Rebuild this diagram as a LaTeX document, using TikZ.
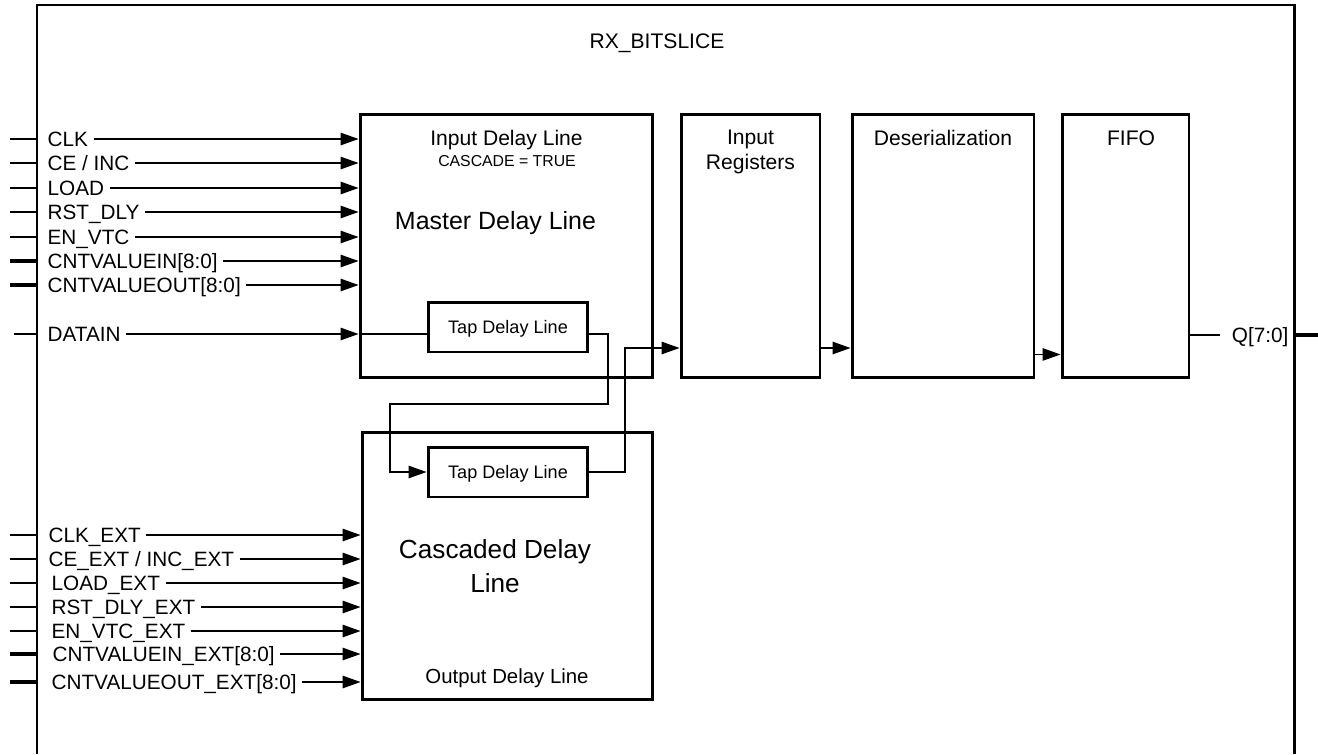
\documentclass[tikz,border=0pt]{standalone}
\usepackage{fontspec}
\setmainfont{Liberation Sans}
\usetikzlibrary{arrows.meta}

\begin{document}
\begin{tikzpicture}[
  x=0.02cm, y=-0.02cm,
  block/.style={draw, line width=1.7pt, inner sep=0pt, minimum height=5.28cm},
  tapbox/.style={draw, line width=1.7pt, inner sep=0pt, minimum width=3.2cm, minimum height=1.0cm, text height=7.4pt, text depth=0pt, font=\fontsize{10.3}{12}\selectfont},
  sig/.style={anchor=west, inner sep=3pt, text height=8.4pt, text depth=0pt, font=\fontsize{11.8}{14}\selectfont},
  label/.style={inner sep=0pt, anchor=base, font=\fontsize{12}{14.2}\selectfont},
  req/.style={-{Triangle[length=0.36cm, width=0.25cm]}, line width=0.75pt},
  wire/.style={line width=0.75pt},
  bus/.style={line width=2.7pt},
  outer/.style={line width=1.7pt}
]
\useasboundingbox (0,0) rectangle (1318,754);

% RX_BITSLICE frame (open at the bottom)
\draw[outer] (37,754) |- (1294,5) -- (1294,754);
\node[label] (ttl) at (657,48) {RX\_BITSLICE};
\coordinate (pinL) at (10,0);
\coordinate (edgeL) at (37,0);
\coordinate (edgeR) at (1294,0);
\coordinate (pinR) at (1318,0);

% Blocks
\node[block, minimum width=5.86cm] (master) at (506.5,246) {};
\node[block, minimum width=5.82cm, minimum height=5.36cm] (casc) at (507.5,566) {};
\node[block, minimum width=2.78cm] (inreg) at (750.5,246) {};
\node[block, minimum width=3.64cm] (deser) at (943,246) {};
\node[block, minimum width=2.54cm] (fifo) at (1125.5,246) {};
\node[tapbox] (tapm) at (508,327) {Tap Delay Line};
\node[tapbox] (tapc) at (508,472) {Tap Delay Line};

% Block texts
\node[label] (idl) at (506.5,145) {Input Delay Line};
\node[label, font=\fontsize{9}{11}\selectfont] (cas) at (507,166) {CASCADE = TRUE};
\node[label, font=\fontsize{14.2}{17}\selectfont] (mdl) at (495.5,229) {Master Delay Line};
\node[label, anchor=north, align=center] (irg) at (750.5,130) {Input\\Registers};
\node[label] (dsr) at (943,145) {Deserialization};
\node[label] (ffo) at (1131,145) {FIFO};
\node[label, anchor=north, align=center, font=\fontsize{14.9}{19.3}\selectfont] (cdl) at (495,539) {Cascaded Delay\\Line};
\node[label, font=\fontsize{11.6}{14}\selectfont] (odl) at (507,683) {Output Delay Line};

% Master delay line inputs
\node[sig] (clk) at (42,139) {CLK};
\draw[wire] (clk -| pinL) -- (clk -| edgeL);
\draw[req] (clk) -- (clk -| master.west);
\node[sig] (ce) at (42,163) {CE / INC};
\draw[wire] (ce -| pinL) -- (ce -| edgeL);
\draw[req] (ce) -- (ce -| master.west);
\node[sig] (load) at (42,188) {LOAD};
\draw[wire] (load -| pinL) -- (load -| edgeL);
\draw[req] (load) -- (load -| master.west);
\node[sig] (rst) at (42,212) {RST\_DLY};
\draw[wire] (rst -| pinL) -- (rst -| edgeL);
\draw[req] (rst) -- (rst -| master.west);
\node[sig] (envtc) at (42,237) {EN\_VTC};
\draw[wire] (envtc -| pinL) -- (envtc -| edgeL);
\draw[req] (envtc) -- (envtc -| master.west);
\node[sig] (cntin) at (42,261) {CNTVALUEIN[8:0]};
\draw[bus] (cntin -| pinL) -- (cntin -| edgeL);
\draw[req] (cntin) -- (cntin -| master.west);
\node[sig] (cntout) at (42,285) {CNTVALUEOUT[8:0]};
\draw[bus] (cntout -| pinL) -- (cntout -| edgeL);
\draw[req] (cntout) -- (cntout -| master.west);
\node[sig] (datain) at (42,334) {DATAIN};
\draw[wire] ([xshift=0.08cm]datain -| pinL) -- (datain -| edgeL);
\draw[req] (datain) -- (datain -| master.west);
\draw[wire] (datain -| master.west) -- (datain -| tapm.west);

% Cascaded delay line inputs
\node[sig] (clkx) at (43,535) {CLK\_EXT};
\draw[wire] (clkx -| pinL) -- (clkx -| edgeL);
\draw[req] (clkx) -- (clkx -| casc.west);
\node[sig] (cex) at (43,559) {CE\_EXT / INC\_EXT};
\draw[wire] (cex -| pinL) -- (cex -| edgeL);
\draw[req] (cex) -- (cex -| casc.west);
\node[sig] (loadx) at (46,583) {LOAD\_EXT};
\draw[wire] (loadx -| pinL) -- (loadx -| edgeL);
\draw[req] (loadx) -- (loadx -| casc.west);
\node[sig] (rstx) at (46,607) {RST\_DLY\_EXT};
\draw[wire] (rstx -| pinL) -- (rstx -| edgeL);
\draw[req] (rstx) -- (rstx -| casc.west);
\node[sig] (envtcx) at (46,631) {EN\_VTC\_EXT};
\draw[wire] (envtcx -| pinL) -- (envtcx -| edgeL);
\draw[req] (envtcx) -- (envtcx -| casc.west);
\node[sig] (cntinx) at (47,654) {CNTVALUEIN\_EXT[8:0]};
\draw[bus] (cntinx -| pinL) -- (cntinx -| edgeL);
\draw[req] (cntinx) -- (cntinx -| casc.west);
\node[sig] (cntoutx) at (46,682) {CNTVALUEOUT\_EXT[8:0]};
\draw[bus] (cntoutx -| pinL) -- (cntoutx -| edgeL);
\draw[req] (cntoutx) -- (cntoutx -| casc.west);

% Cascade path between the tap delay lines
\coordinate (j1) at (608,404);
\coordinate (j2) at (390,404);
\coordinate (j3) at (625,348);
\draw[req] (tapm.east |- datain) -| (j1) -- (j2) |- (tapc.west);
\draw[req] (tapc.east) -| (j3) -- (j3 -| inreg.west);

% Data path
\draw[req] (j3 -| inreg.east) -- (j3 -| deser.west);
\draw[req] ([yshift=0.5cm]deser.south east) -- ([yshift=0.5cm]fifo.south west);
\node[sig, anchor=east] (q) at (1294,335) {Q[7:0]};
\draw[wire] (q -| fifo.east) -- ([xshift=-0.12cm]q.west);
\draw[bus] (q -| edgeR) -- (q -| pinR);

\end{tikzpicture}
\end{document}
